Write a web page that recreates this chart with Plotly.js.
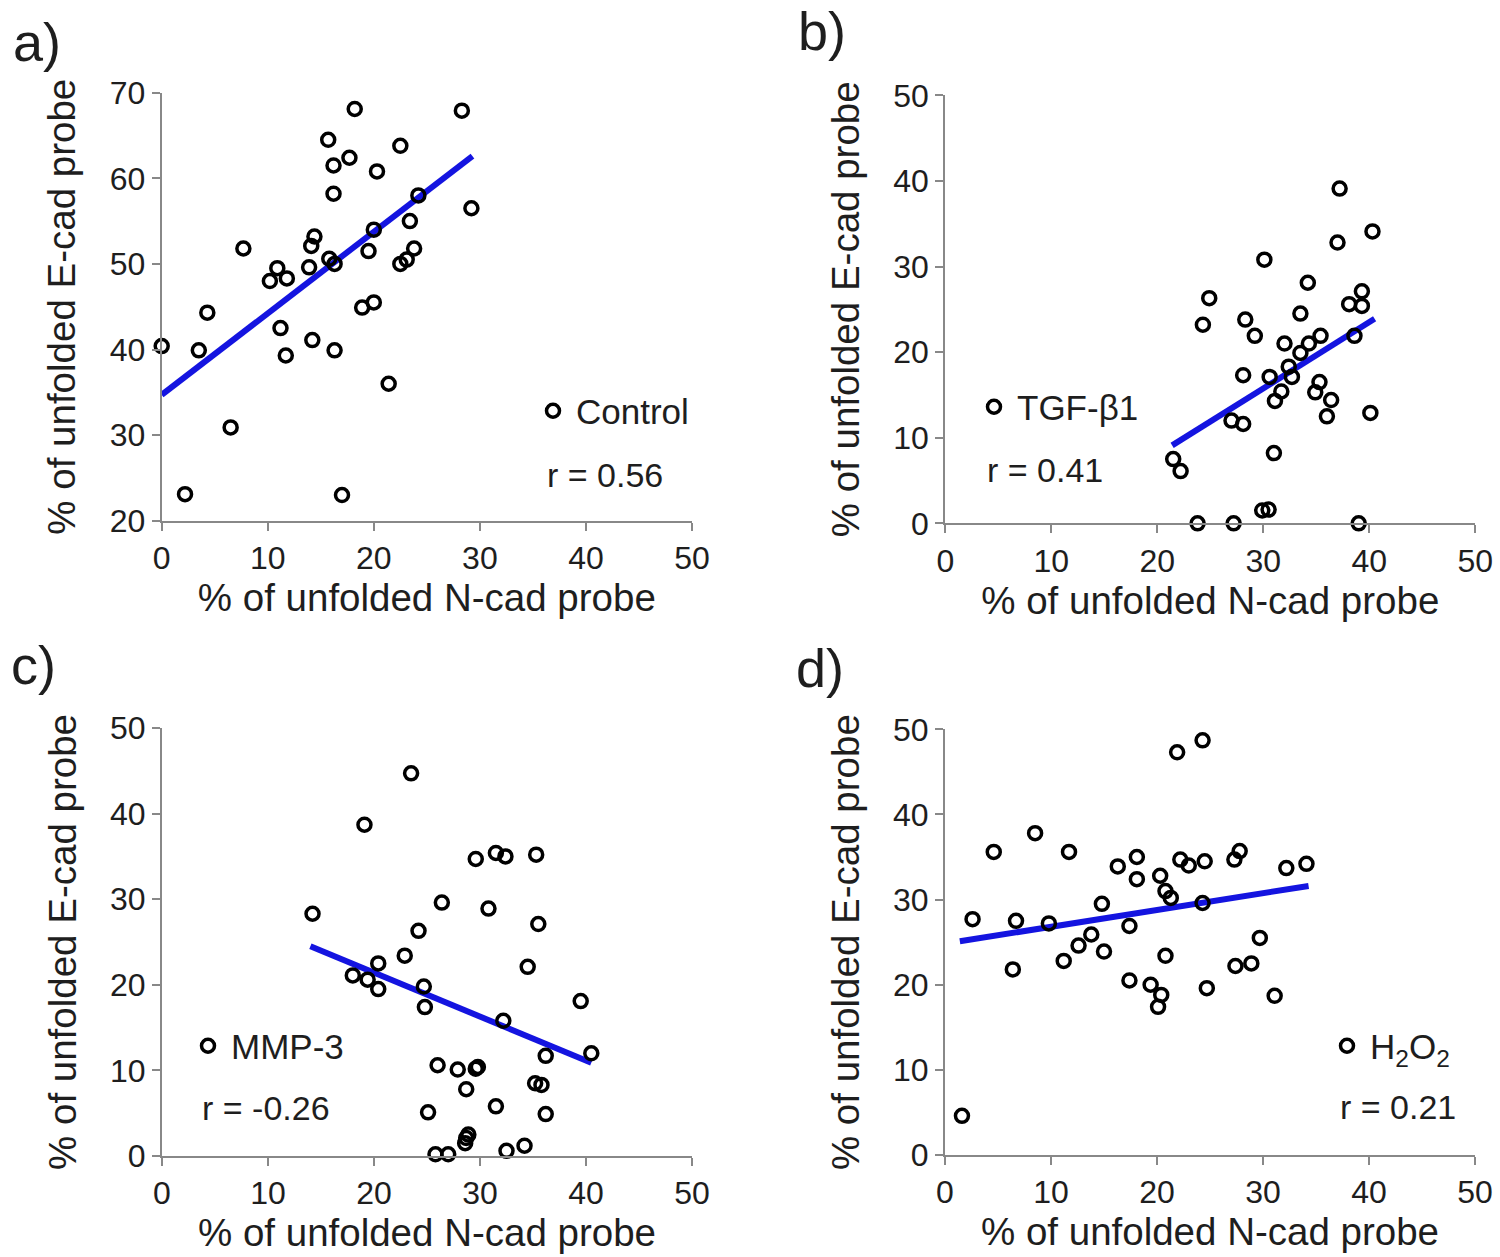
<!DOCTYPE html>
<html>
<head>
<meta charset="utf-8">
<script src="https://cdn.plot.ly/plotly-3.0.1.min.js"></script>
<style>html,body{margin:0;padding:0;background:#fff;}#chart{width:1500px;height:1257px;}</style>
</head>
<body>
<div id="chart"></div>
<script>
// ---- data ----
const ctrlX = [0, 2.2, 3.5, 4.3, 6.5, 7.7, 10.2, 10.9, 11.8, 11.2, 11.7, 13.9, 14.1, 14.4, 14.2, 15.7, 15.8, 16.3, 16.2, 16.2, 16.3, 17.0, 17.7, 18.2, 18.9, 20.0, 19.5, 20.0, 20.3, 21.4, 22.5, 22.5, 23.1, 23.8, 23.4, 24.2, 28.3, 29.2];
const ctrlY = [40.4, 23.1, 39.9, 44.3, 30.9, 51.8, 48.0, 49.5, 48.3, 42.5, 39.3, 49.6, 52.1, 53.2, 41.1, 64.5, 50.6, 50.0, 61.5, 58.2, 39.9, 23.0, 62.4, 68.1, 44.9, 45.5, 51.5, 54.0, 60.8, 36.0, 63.8, 50.0, 50.5, 51.8, 55.0, 58.0, 67.9, 56.5];
const ctrlFitX = [0, 29.3];
const ctrlFitY = [34.7, 62.6];

const tgfX = [37.2, 40.3, 37.0, 30.1, 34.2, 24.9, 39.3, 38.1, 39.3, 33.5, 24.3, 28.3, 29.2, 32.0, 34.3, 35.4, 38.6, 33.5, 32.4, 28.1, 30.6, 32.7, 31.7, 31.1, 35.3, 34.9, 36.4, 36.0, 40.1, 27.0, 28.1, 31.0, 21.5, 22.2, 29.9, 30.5, 23.8, 27.2, 39.0];
const tgfY = [39.1, 34.1, 32.8, 30.8, 28.1, 26.3, 27.1, 25.6, 25.4, 24.5, 23.2, 23.8, 21.9, 21.0, 21.0, 21.9, 21.9, 19.9, 18.3, 17.3, 17.1, 17.1, 15.4, 14.3, 16.5, 15.3, 14.4, 12.5, 12.9, 12.0, 11.6, 8.2, 7.5, 6.1, 1.5, 1.6, 0, 0, 0];
const tgfFitX = [21.4, 40.5];
const tgfFitY = [9.1, 23.9];

const mmpX = [23.5, 19.1, 14.2, 24.2, 22.9, 20.4, 18.0, 19.4, 20.4, 29.6, 31.5, 32.4, 35.3, 26.4, 30.8, 35.5, 34.5, 24.7, 24.8, 39.5, 32.2, 36.2, 40.5, 26.0, 27.9, 29.6, 29.8, 28.7, 35.2, 35.8, 36.2, 31.5, 25.1, 28.7, 28.9, 28.6, 25.8, 27.0, 32.5, 34.2];
const mmpY = [44.7, 38.7, 28.3, 26.3, 23.4, 22.5, 21.1, 20.6, 19.5, 34.7, 35.4, 35.0, 35.2, 29.6, 28.9, 27.1, 22.1, 19.8, 17.4, 18.1, 15.8, 11.7, 12.0, 10.6, 10.1, 10.2, 10.4, 7.8, 8.5, 8.3, 4.9, 5.8, 5.1, 2.1, 2.5, 1.5, 0.2, 0.2, 0.6, 1.2];
const mmpFitX = [14.0, 40.5];
const mmpFitY = [24.5, 10.9];

const h2o2X = [1.6, 2.6, 4.6, 6.4, 6.7, 8.5, 9.8, 11.7, 11.2, 12.6, 13.8, 15.0, 14.8, 16.3, 18.1, 18.1, 17.4, 17.4, 19.4, 20.4, 20.1, 20.3, 20.8, 21.3, 20.8, 21.9, 24.3, 22.2, 23.0, 24.5, 24.3, 24.7, 27.3, 27.8, 27.4, 28.9, 29.7, 31.1, 32.2, 34.1];
const h2o2Y = [4.6, 27.7, 35.6, 21.8, 27.5, 37.8, 27.2, 35.6, 22.8, 24.6, 25.9, 23.9, 29.5, 33.9, 35.0, 32.4, 26.9, 20.5, 20.0, 18.8, 17.4, 32.8, 31.0, 30.2, 23.4, 47.3, 48.7, 34.7, 34.0, 34.5, 29.6, 19.6, 34.7, 35.7, 22.2, 22.5, 25.5, 18.7, 33.7, 34.2];
const h2o2FitX = [1.4, 34.3];
const h2o2FitY = [25.1, 31.6];

const seriesNames = ['Control', 'TGF-β1', 'MMP-3', 'H<sub>2</sub>O<sub>2</sub>'];
const rLabels = ['r = 0.56', 'r = 0.41', 'r = -0.26', 'r = 0.21'];
const panelLabels = ['a)', 'b)', 'c)', 'd)'];
const xTicks = [0, 10, 20, 30, 40, 50];
const yTicksA = [20, 30, 40, 50, 60, 70];
const yTicksB = [0, 10, 20, 30, 40, 50];
const xTitle = '% of unfolded N-cad probe';
const yTitle = '% of unfolded E-cad probe';

// ---- styles ----
const FONT = 'Liberation Sans, Arial, sans-serif';
const TXT = '#1e1e1e';
const W = 1500, H = 1257;
const px = v => v / W;
const py = v => (H - v) / H;

const marker = {symbol: 'circle-open', size: 13, color: '#000', line: {width: 3.5, color: '#000'}};
const fitLine = {color: '#1414e0', width: 6};

const sets = [
  {x: ctrlX, y: ctrlY, fx: ctrlFitX, fy: ctrlFitY},
  {x: tgfX, y: tgfY, fx: tgfFitX, fy: tgfFitY},
  {x: mmpX, y: mmpY, fx: mmpFitX, fy: mmpFitY},
  {x: h2o2X, y: h2o2Y, fx: h2o2FitX, fy: h2o2FitY}
];
const legendKeys = ['legend', 'legend2', 'legend3', 'legend4'];

const traces = [];
sets.forEach((s, i) => {
  const xa = i === 0 ? 'x' : 'x' + (i + 1);
  const ya = i === 0 ? 'y' : 'y' + (i + 1);
  traces.push({type: 'scatter', mode: 'lines', x: s.fx, y: s.fy, xaxis: xa, yaxis: ya,
    line: fitLine, showlegend: false, hoverinfo: 'skip', cliponaxis: false});
  traces.push({type: 'scatter', mode: 'markers', x: s.x, y: s.y, xaxis: xa, yaxis: ya,
    name: seriesNames[i], marker: marker, cliponaxis: false, legend: legendKeys[i]});
});

// plot-area pixel boxes [left, right, bottom, top]
const boxes = [
  [161.7, 692, 520.7, 92.7],
  [945.3, 1475.3, 523.3, 95.3],
  [162, 692, 1156, 728],
  [945, 1475, 1155, 729.3]
];

function xaxis(b, anchor) {
  return {domain: [px(b[0]), px(b[1])], anchor: anchor, range: [0, 50], tickvals: xTicks,
    showgrid: false, zeroline: false, showline: true, linecolor: '#888', linewidth: 2,
    ticks: 'outside', ticklen: 8, tickwidth: 2, tickcolor: '#888',
    tickfont: {family: FONT, size: 32, color: TXT},
    title: {text: xTitle, font: {family: FONT, size: 38.5, color: TXT}, standoff: 4}};
}
function yaxis(b, anchor, ticks) {
  return {domain: [py(b[2]), py(b[3])], anchor: anchor, range: [ticks[0], ticks[ticks.length - 1]], tickvals: ticks,
    showgrid: false, zeroline: false, showline: true, linecolor: '#888', linewidth: 2,
    ticks: 'outside', ticklen: 8, tickwidth: 2, tickcolor: '#888',
    tickfont: {family: FONT, size: 32, color: TXT},
    title: {text: yTitle, font: {family: FONT, size: 38.5, color: TXT}, standoff: 22}};
}

const legendPos = [[530, 411], [971, 407], [185, 1046], [1324, 1046]];
const rPos = [[545, 475], [985, 470], [200, 1108], [1338, 1107]];
const labelPos = [[11, 42], [796, 31], [9, 665], [794, 668]];

const layout = {
  width: W, height: H,
  margin: {l: 0, r: 0, t: 0, b: 0},
  paper_bgcolor: '#fff', plot_bgcolor: '#fff',
  font: {family: FONT, color: TXT},
  xaxis: xaxis(boxes[0], 'y'), yaxis: yaxis(boxes[0], 'x', yTicksA),
  xaxis2: xaxis(boxes[1], 'y2'), yaxis2: yaxis(boxes[1], 'x2', yTicksB),
  xaxis3: xaxis(boxes[2], 'y3'), yaxis3: yaxis(boxes[2], 'x3', yTicksB),
  xaxis4: xaxis(boxes[3], 'y4'), yaxis4: yaxis(boxes[3], 'x4', yTicksB),
  annotations: [],
  hovermode: false
};
legendKeys.forEach((k, i) => {
  layout[k] = {x: px(legendPos[i][0]), y: py(legendPos[i][1]), xanchor: 'left', yanchor: 'middle',
    bgcolor: 'rgba(0,0,0,0)', borderwidth: 0, font: {family: FONT, size: 35, color: TXT},
    itemwidth: 36, tracegroupgap: 0};
  layout.annotations.push({xref: 'paper', yref: 'paper', x: px(rPos[i][0]), y: py(rPos[i][1]),
    xanchor: 'left', yanchor: 'middle', showarrow: false, text: rLabels[i],
    font: {family: FONT, size: 34, color: TXT}});
  layout.annotations.push({xref: 'paper', yref: 'paper', x: px(labelPos[i][0]), y: py(labelPos[i][1]),
    xanchor: 'left', yanchor: 'middle', showarrow: false, text: panelLabels[i],
    font: {family: FONT, size: 54, color: TXT}});
});

Plotly.newPlot('chart', traces, layout, {staticPlot: true, displayModeBar: false});
</script>
</body>
</html>
